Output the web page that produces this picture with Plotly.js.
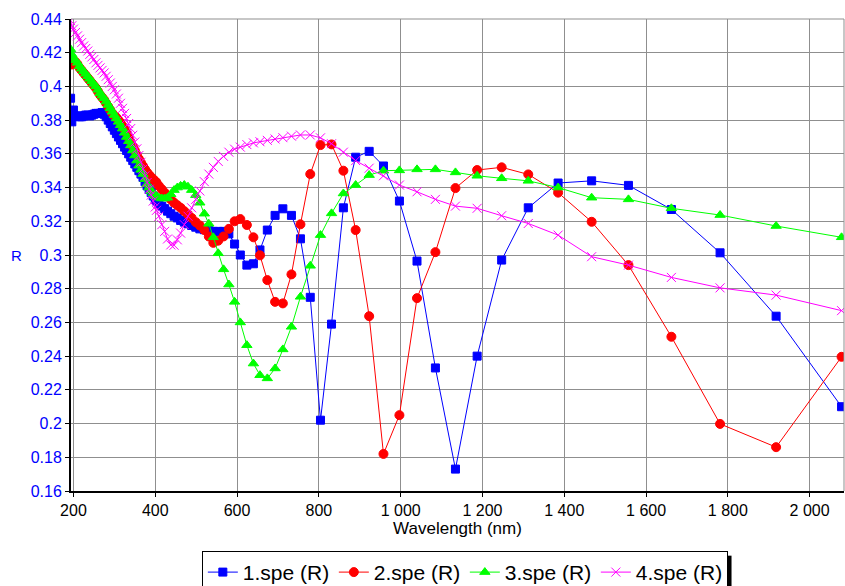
<!DOCTYPE html>
<html>
<head>
<meta charset="utf-8">
<script src="https://cdn.plot.ly/plotly-3.0.1.min.js"></script>
<style>html,body{margin:0;padding:0;background:#fff;}#chart{width:845px;height:586px;}</style>
</head>
<body>
<div id="chart"></div>
<script>
// Wavelength grid (nm), shared by all four spectra
const wavelength = [193,196,200,205,210,215,220,225,230,235,240,245,250,255,260,265,270,275,280,285,290,295,300,305,310,315,320,325,330,335,340,345,350,355,360,365,370,375,380,385,390,395,400,
403,409,416,423,430,438,446,454,462,471,480,489,499,509,520,531,542,554,567,580,
594,608,624,640,656,674,693,712,733,755,779,804,831,860,890,923,
958,997,1040,1085,1134,1187,1247,1312,1385,1467,1557,1662,1781,1918,2078];

const r1 = [0.393,0.379,0.386,0.3825,0.3825,0.382,0.382,0.3825,0.383,0.383,0.3825,0.383,0.3835,0.384,0.384,0.384,0.3845,0.3835,0.382,0.380,0.378,0.376,0.374,0.372,0.370,0.368,0.366,0.364,0.362,0.360,0.358,0.356,0.354,0.352,0.350,0.348,0.346,0.3435,0.341,0.339,0.337,0.335,0.333,
0.332,0.3305,0.329,0.3275,0.326,0.3245,0.323,0.322,0.3205,0.3195,0.3185,0.3175,0.3165,0.3155,0.315,0.3145,0.314,0.314,0.314,0.3125,
0.3065,0.300,0.294,0.2948,0.303,0.3148,0.3235,0.3274,0.3235,0.3096,0.2749,0.202,0.259,0.328,0.358,0.3615,
0.3528,0.332,0.2964,0.233,0.173,0.240,0.297,0.328,0.3427,0.344,0.3413,0.327,0.3013,0.2637,0.210];

const r2 = [0.415,0.413,0.414,0.4145,0.413,0.411,0.4095,0.408,0.4065,0.405,0.4035,0.402,0.4005,0.399,0.397,0.395,0.3935,0.392,0.390,0.388,0.386,0.384,0.3825,0.3815,0.3800,0.3785,0.3765,0.3745,0.372,0.3695,0.367,0.3645,0.362,0.3595,0.357,0.3548,0.3528,0.3508,0.349,0.3475,0.3462,0.345,0.3438,
0.343,0.341,0.339,0.337,0.335,0.333,0.331,0.3295,0.328,0.326,0.324,0.322,0.3195,0.3175,0.3148,0.311,0.3072,0.3085,0.311,0.3155,
0.320,0.3213,0.3178,0.3105,0.2998,0.2851,0.2722,0.2713,0.2885,0.3182,0.348,0.3652,0.3656,0.350,0.3148,0.2637,
0.182,0.205,0.2744,0.3017,0.3397,0.3504,0.352,0.3478,0.337,0.3197,0.294,0.2515,0.1998,0.186,0.2396];

const r3 = [0.422,0.419,0.417,0.4155,0.414,0.412,0.4105,0.409,0.4075,0.406,0.4045,0.403,0.4015,0.400,0.398,0.396,0.3945,0.393,0.391,0.389,0.387,0.385,0.383,0.381,0.379,0.377,0.375,0.3725,0.370,0.3675,0.365,0.362,0.359,0.356,0.353,0.3505,0.348,0.345,0.342,0.340,0.338,0.3365,0.3355,
0.3348,0.334,0.3335,0.3335,0.334,0.336,0.3385,0.340,0.341,0.3415,0.3405,0.3385,0.3355,0.331,0.3245,0.3185,0.3105,0.301,0.2915,0.2825,
0.2722,0.260,0.2465,0.2356,0.2287,0.2268,0.2327,0.244,0.2574,0.2752,0.2936,0.3118,0.3247,0.3365,0.3415,0.3474,
0.350,0.3502,0.3508,0.3508,0.349,0.347,0.3455,0.344,0.340,0.334,0.333,0.3277,0.3237,0.3172,0.3105];

const r4 = [0.439,0.436,0.434,0.432,0.430,0.428,0.426,0.424,0.4225,0.421,0.419,0.4175,0.416,0.414,0.4125,0.411,0.4095,0.408,0.406,0.404,0.402,0.400,0.398,0.3955,0.393,0.390,0.387,0.384,0.381,0.378,0.375,0.371,0.367,0.363,0.359,0.355,0.351,0.347,0.343,0.339,0.3355,0.332,0.3285,
0.3265,0.323,0.318,0.314,0.3095,0.306,0.3058,0.309,0.313,0.318,0.323,0.328,0.333,0.338,0.3435,0.348,0.352,0.3555,0.3585,0.361,
0.3628,0.364,0.3655,0.3665,0.3672,0.368,0.3688,0.3696,0.3705,0.3712,0.3712,0.3695,0.366,0.361,0.356,0.3515,
0.347,0.3415,0.3375,0.333,0.329,0.3277,0.3233,0.3187,0.3118,0.299,0.294,0.2867,0.2805,0.2762,0.267];

const seriesNames = ["1.spe (R)", "2.spe (R)", "3.spe (R)", "4.spe (R)"];
const xTickVals = [200,400,600,800,1000,1200,1400,1600,1800,2000];
const yTickVals = [0.16,0.18,0.2,0.22,0.24,0.26,0.28,0.3,0.32,0.34,0.36,0.38,0.4,0.42,0.44];

const FONT = "Liberation Sans, Arial, sans-serif";
const styles = [
  {color:"#0000ff", symbol:"square", size:8},
  {color:"#ff0000", symbol:"circle", size:9},
  {color:"#00ff00", symbol:"triangle-up", size:9},
  {color:"#ff00ff", symbol:"x-thin-open", size:9}
];
const ys = [r1, r2, r3, r4];
const traces = ys.map((y, i) => ({
  type: "scatter",
  mode: "lines+markers",
  name: seriesNames[i],
  x: wavelength,
  y: y,
  line: {color: styles[i].color, width: 1},
  marker: {symbol: styles[i].symbol, size: styles[i].size, color: styles[i].color,
           line: {color: styles[i].color, width: 1}},
  cliponaxis: true
}));

const layout = {
  width: 845, height: 586,
  margin: {l: 71, r: 1, t: 19, b: 95, autoexpand: false},
  paper_bgcolor: "#fff", plot_bgcolor: "#fff",
  separators: ". ",
  font: {family: FONT, size: 16, color: "#000"},
  showlegend: true,
  legend: {
    orientation: "h", x: 0.5095, xanchor: "center", y: -0.127, yanchor: "top",
    font: {family: FONT, size: 21, color: "#000"},
    bordercolor: "#000", borderwidth: 1, bgcolor: "#fff",
    itemwidth: 30, entrywidth: 86, entrywidthmode: "pixels", traceorder: "normal"
  },
  xaxis: {
    range: [194, 2084],
    automargin: false,
    tickvals: xTickVals,
    ticktext: xTickVals.map(v => v >= 1000 ? (Math.floor(v/1000) + " " + String(v%1000).padStart(3,"0")) : String(v)),
    showgrid: true, gridcolor: "#8f8f8f", gridwidth: 1,
    showline: true, linecolor: "#000", linewidth: 2,
    ticks: "outside", ticklen: 4, tickcolor: "#000",
    tickfont: {family: FONT, size: 16, color: "#000"},
    zeroline: false,
    title: {text: "Wavelength (nm)", font: {family: FONT, size: 17, color: "#000"}, standoff: 2}
  },
  yaxis: {
    range: [0.16, 0.44],
    automargin: false,
    tickvals: yTickVals,
    showgrid: true, gridcolor: "#8f8f8f", gridwidth: 1,
    showline: true, linecolor: "#000", linewidth: 2,
    ticks: "outside", ticklen: 4, tickcolor: "#000",
    tickfont: {family: FONT, size: 16, color: "#0000ff"},
    zeroline: false
  },
  annotations: [{
    text: "R", xref: "paper", yref: "paper", x: -0.07, y: 0.5,
    xanchor: "center", yanchor: "middle", showarrow: false,
    font: {family: FONT, size: 15, color: "#0000ff"}
  }],
  shapes: [
    {type: "line", xref: "paper", yref: "paper", x0: 0, x1: 1, y0: 1, y1: 1, line: {color: "#8f8f8f", width: 1}},
    {type: "line", xref: "paper", yref: "paper", x0: 1, x1: 1, y0: 0, y1: 1, line: {color: "#8f8f8f", width: 1}},
    {type: "rect", xref: "paper", yref: "paper", x0: 0.8465, x1: 0.8545, y0: -0.205, y1: -0.137,
     line: {width: 0}, fillcolor: "#000", layer: "above"}
  ]
};

Plotly.newPlot("chart", traces, layout, {displayModeBar: false, staticPlot: true});
</script>
</body>
</html>
